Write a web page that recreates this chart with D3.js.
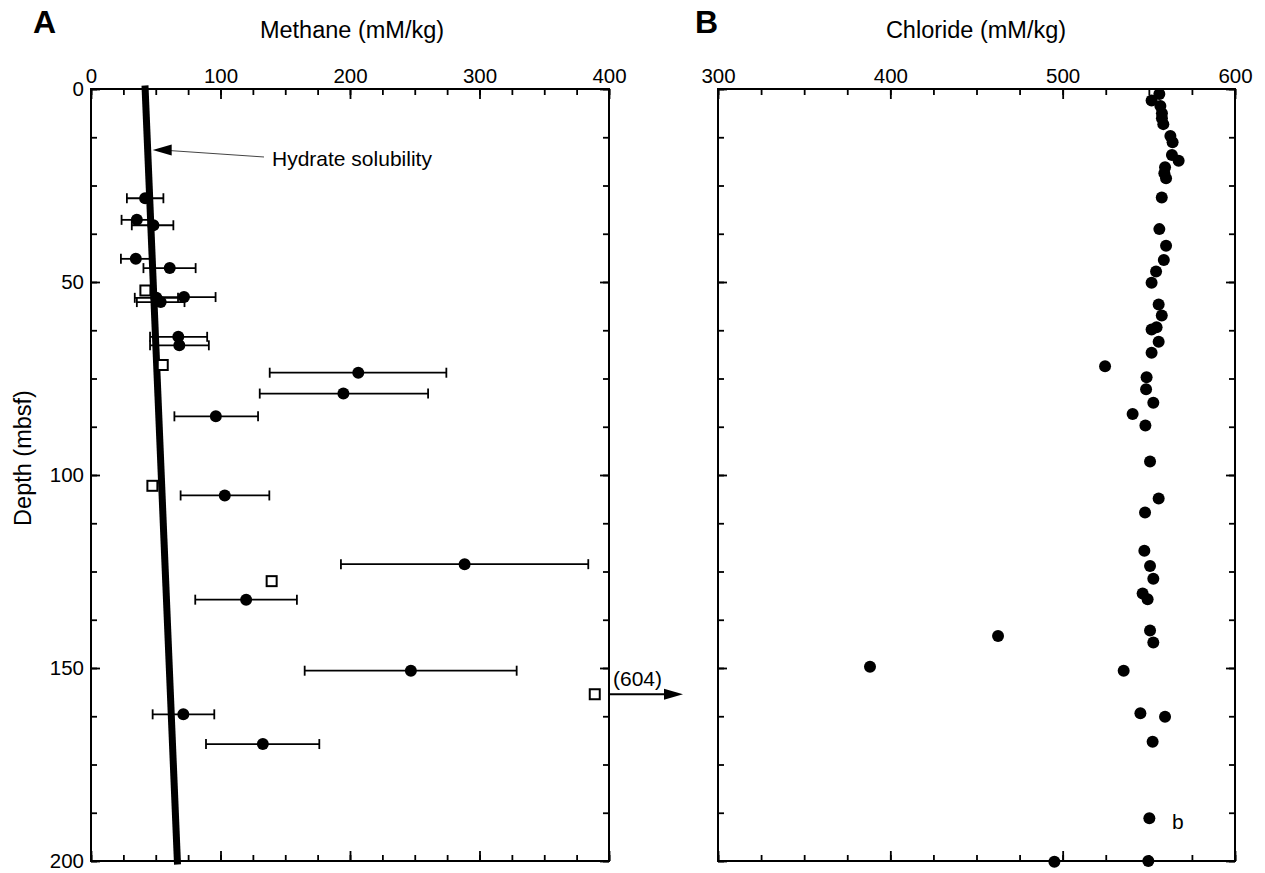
<!DOCTYPE html>
<html>
<head>
<meta charset="utf-8">
<script src="https://cdn.jsdelivr.net/npm/d3@7"></script>
<style>
  body { margin: 0; background: #fff; }
  svg text { font-family: "Liberation Sans", Arial, Helvetica, sans-serif; fill: #000; }
</style>
</head>
<body>
<div id="chart"></div>
<script>
// Panel A: methane with error bars (depth mbsf, mM/kg)
const ch4Depth = [28.3, 33.9, 35.3, 44.0, 46.4, 53.9, 54.1, 55.2, 64.2, 66.4,
                  73.5, 78.9, 84.8, 105.3, 123.1, 132.3, 150.7, 162.0, 169.7];
const ch4Value = [41.8, 35.4, 48.2, 34.6, 60.8, 71.8, 50.5, 53.8, 67.4, 68.2,
                  206.4, 194.9, 96.4, 103.3, 288.5, 119.8, 247.0, 71.3, 132.7];
const ch4Low   = [27.7, 23.6, 31.5, 23.1, 40.5, 47.4, 33.8, 35.4, 45.6, 45.6,
                  138.0, 130.3, 64.4, 69.2, 193.0, 80.5, 165.0, 47.6, 88.8];
const ch4High  = [55.9, 47.2, 63.6, 46.1, 80.8, 96.2, 67.2, 72.2, 89.7, 91.0,
                  274.4, 260.3, 129.0, 137.7, 384.0, 159.0, 328.7, 95.2, 176.3];

// Panel A: open squares
const sqDepth = [52.2, 71.5, 102.8, 127.5, 156.8];
const sqValue = [42.0, 55.4, 47.4, 139.5, 389.0];

// Hydrate solubility curve
const solDepth = [0, 200];
const solValue = [41.8, 66.7];

// Panel B: chloride
const clDepth = [1.3, 3.0, 4.4, 6.3, 7.6, 9.1, 12.2, 13.8, 17.1, 18.6,
                 20.3, 21.8, 23.1, 28.1, 36.3, 40.6, 44.3, 47.3, 50.2, 55.8,
                 58.7, 61.7, 62.3, 65.5, 68.3, 71.8, 74.7, 77.8, 81.3, 84.2,
                 87.2, 96.5, 106.1, 109.7, 119.6, 123.6, 126.9, 130.7, 132.2, 140.3,
                 141.7, 143.4, 149.7, 150.7, 161.7, 162.6, 169.1, 188.9, 200.2, 200.0];
const clValue = [556.1, 551.6, 556.7, 557.6, 557.6, 558.4, 562.5, 563.8, 563.4, 567.3,
                 559.4, 559.0, 560.0, 557.5, 556.1, 560.0, 558.7, 554.2, 551.6, 555.7,
                 557.5, 554.5, 551.6, 555.7, 551.6, 524.6, 548.7, 548.4, 552.6, 540.6,
                 548.0, 550.7, 555.7, 547.8, 547.4, 550.7, 552.6, 546.4, 549.3, 550.7,
                 462.5, 552.6, 388.2, 535.4, 545.1, 559.4, 552.2, 550.3, 495.2, 549.7];

const ch4Ticks = [0, 100, 200, 300, 400];
const clTicks = [300, 400, 500, 600];
const depthTicks = [0, 50, 100, 150, 200];

const width = 1265, height = 873;
const yTop = 89, yBottom = 861;

const svg = d3.select("#chart").append("svg")
    .attr("width", width)
    .attr("height", height);

const y = d3.scaleLinear().domain([0, 200]).range([yTop, yBottom]);
const xA = d3.scaleLinear().domain([0, 400]).range([91, 609]);
const xB = d3.scaleLinear().domain([300, 600]).range([718, 1235]);

// Frame with inward ticks on all four sides.
function frame(x, majors, labelTop, labelLeft) {
  const [x0, x1] = x.range();
  const [d0, d1] = x.domain();
  const minors = d3.range(d0, d1 + 1, 25);
  const depthMinor = d3.range(0, 201, 12.5);

  const g = svg.append("g");

  function axisGroup(axis, transform, labels) {
    const a = g.append("g").attr("transform", transform).call(axis);
    a.select(".domain").remove();
    a.selectAll("line").attr("stroke", "#000").attr("stroke-width", 1.8);
    a.attr("font-size", 20.5).attr("font-family", null);
    if (!labels) a.selectAll("text").remove();
    return a;
  }

  axisGroup(d3.axisTop(x).tickValues(majors).tickSize(-10).tickPadding(6), `translate(0,${yTop})`, labelTop);
  axisGroup(d3.axisTop(x).tickValues(minors).tickSize(-6), `translate(0,${yTop})`, false);
  axisGroup(d3.axisBottom(x).tickValues(majors).tickSize(-10), `translate(0,${yBottom})`, false);
  axisGroup(d3.axisBottom(x).tickValues(minors).tickSize(-6), `translate(0,${yBottom})`, false);
  axisGroup(d3.axisLeft(y).tickValues(depthTicks).tickSize(-9).tickPadding(7), `translate(${x0},0)`, labelLeft);
  axisGroup(d3.axisLeft(y).tickValues(depthMinor).tickSize(-6), `translate(${x0},0)`, false);
  axisGroup(d3.axisRight(y).tickValues(depthTicks).tickSize(-9), `translate(${x1},0)`, false);
  axisGroup(d3.axisRight(y).tickValues(depthMinor).tickSize(-6), `translate(${x1},0)`, false);

  g.append("rect")
      .attr("x", x0).attr("y", yTop)
      .attr("width", x1 - x0).attr("height", yBottom - yTop)
      .attr("fill", "none")
      .attr("stroke", "#000")
      .attr("stroke-width", 2);
  return g;
}

frame(xA, ch4Ticks, true, true);
frame(xB, clTicks, true, false);

// Titles and panel letters
svg.append("text").attr("x", 33).attr("y", 33)
    .attr("font-size", 32).attr("font-weight", "bold").text("A");
svg.append("text").attr("x", 695).attr("y", 33)
    .attr("font-size", 32).attr("font-weight", "bold").text("B");
svg.append("text").attr("x", 352).attr("y", 38)
    .attr("text-anchor", "middle").attr("font-size", 23.5).text("Methane (mM/kg)");
svg.append("text").attr("x", 976).attr("y", 38)
    .attr("text-anchor", "middle").attr("font-size", 23.5).text("Chloride (mM/kg)");
svg.append("text")
    .attr("transform", "translate(31,458) rotate(-90)")
    .attr("text-anchor", "middle").attr("font-size", 23.5).text("Depth (mbsf)");

// Hydrate solubility line
const solPts = solDepth.map((d, i) => [xA(solValue[i]), y(d)]);
svg.append("path")
    .attr("d", d3.line()(solPts))
    .attr("fill", "none")
    .attr("stroke", "#000")
    .attr("stroke-width", 7)
    .attr("stroke-linecap", "square");

// Annotation arrow pointing at the solubility line
const annDepth = 15.8;
const annX = xA(solValue[0] + (solValue[1] - solValue[0]) * annDepth / 200) + 5;
const annY = y(annDepth);
svg.append("line")
    .attr("x1", annX + 16).attr("y1", annY + 0.5)
    .attr("x2", 264).attr("y2", annY + 7)
    .attr("stroke", "#444").attr("stroke-width", 1);
svg.append("path")
    .attr("d", `M${annX},${annY}L${annX + 19},${annY - 5.5}L${annX + 19},${annY + 5.5}Z`)
    .attr("fill", "#000");
svg.append("text").attr("x", 272).attr("y", 166)
    .attr("font-size", 21).text("Hydrate solubility");

// Error bars
const bars = svg.append("g").attr("stroke", "#000").attr("stroke-width", 1.8);
ch4Depth.forEach((d, i) => {
  const yy = y(d);
  bars.append("line").attr("x1", xA(ch4Low[i])).attr("x2", xA(ch4High[i]))
      .attr("y1", yy).attr("y2", yy);
  [ch4Low[i], ch4High[i]].forEach(v => {
    bars.append("line").attr("x1", xA(v)).attr("x2", xA(v))
        .attr("y1", yy - 5).attr("y2", yy + 5);
  });
});

// Methane dots
svg.append("g").selectAll("circle")
    .data(ch4Depth)
    .join("circle")
    .attr("cx", (d, i) => xA(ch4Value[i]))
    .attr("cy", d => y(d))
    .attr("r", 6)
    .attr("fill", "#000");

// Open squares
svg.append("g").selectAll("rect")
    .data(sqDepth)
    .join("rect")
    .attr("x", (d, i) => xA(sqValue[i]) - 5)
    .attr("y", d => y(d) - 5)
    .attr("width", 10).attr("height", 10)
    .attr("fill", "#fff")
    .attr("stroke", "#000")
    .attr("stroke-width", 2);

// Off-scale value arrow (604)
const offY = y(sqDepth[4]);
const ax0 = xA.range()[1];
svg.append("line")
    .attr("x1", ax0).attr("x2", 666)
    .attr("y1", offY).attr("y2", offY)
    .attr("stroke", "#000").attr("stroke-width", 1.8);
svg.append("path")
    .attr("d", `M683,${offY}L664,${offY - 5.5}L664,${offY + 5.5}Z`)
    .attr("fill", "#000");
svg.append("text").attr("x", 613).attr("y", offY - 8)
    .attr("font-size", 21).text("(604)");

// Chloride dots
svg.append("g").selectAll("circle")
    .data(clDepth)
    .join("circle")
    .attr("cx", (d, i) => xB(clValue[i]))
    .attr("cy", d => y(d))
    .attr("r", 6)
    .attr("fill", "#000");

svg.append("text").attr("x", 1172).attr("y", 829)
    .attr("font-size", 21).text("b");
</script>
</body>
</html>
